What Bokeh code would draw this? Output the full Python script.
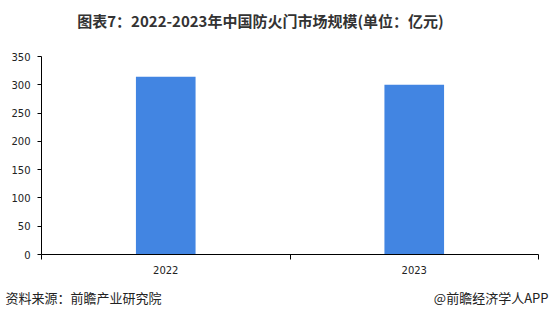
from bokeh.plotting import figure
from bokeh.models import FixedTicker, Range1d, ColumnDataSource
from bokeh.layouts import column, row
from bokeh.core.properties import value
from bokeh.embed import file_html
from bokeh.resources import INLINE

years = ["2022", "2023"]
values = [314, 300]
y_ticks = [0, 50, 100, 150, 200, 250, 300, 350]

title_text = "图表7：2022-2023年中国防火门市场规模(单位：亿元)"
source_text = "资料来源：前瞻产业研究院"
brand_text = "@前瞻经济学人APP"

W = 550
HEAD_H, FOOT_H = 45, 35
MAIN_H = 319 - HEAD_H - FOOT_H
BL, BR = 41, 12

xs = [i + 0.5 for i in range(len(years))]
src = ColumnDataSource(dict(x=xs, top=values))


def blank(h, x0, x1, **kw):
    f = figure(width=W, height=h, output_backend="svg", toolbar_location=None,
               x_range=Range1d(x0, x1), y_range=Range1d(h, 0),
               x_axis_type=None, y_axis_type=None, **kw)
    f.outline_line_color = None
    f.xgrid.visible = False
    f.ygrid.visible = False
    return f


head = blank(HEAD_H, BL, W - BR, min_border_left=BL, min_border_right=BR,
             min_border_top=0, min_border_bottom=0)
head.text(x=[260], y=[20], text=[title_text], text_align="center", text_baseline="middle",
          text_font=value("Noto Sans CJK SC"), text_font_size="15px",
          text_font_style="bold", text_color="#333333")

p = figure(width=W, height=MAIN_H, output_backend="svg", toolbar_location=None,
           x_range=Range1d(0, len(years)), y_range=Range1d(0, 350),
           min_border_left=BL, min_border_right=BR,
           min_border_top=56 - HEAD_H, min_border_bottom=HEAD_H + MAIN_H - 254)
p.outline_line_color = None
p.xgrid.visible = False
p.ygrid.visible = False

p.vbar(x="x", top="top", width=0.24, source=src, color="#4285e2", line_color=None)

p.yaxis.ticker = FixedTicker(ticks=y_ticks)
p.yaxis.major_tick_in = 0
p.yaxis.major_tick_out = 4
p.yaxis.minor_tick_line_color = None
p.yaxis.axis_line_color = "black"
p.yaxis.major_tick_line_color = "black"
p.yaxis.major_label_text_font = "DejaVu Sans"
p.yaxis.major_label_text_font_size = "10px"
p.yaxis.major_label_text_color = "#222222"
p.yaxis.major_label_standoff = 7

p.xaxis.ticker = FixedTicker(ticks=xs, minor_ticks=list(range(len(years) + 1)))
p.xaxis.major_label_overrides = {x: y for x, y in zip(xs, years)}
p.xaxis.major_tick_line_color = None
p.xaxis.minor_tick_in = 0
p.xaxis.minor_tick_out = 5
p.xaxis.minor_tick_line_color = "black"
p.xaxis.axis_line_color = "black"
p.xaxis.major_label_text_font = "DejaVu Sans"
p.xaxis.major_label_text_font_size = "10px"
p.xaxis.major_label_text_color = "#222222"
p.xaxis.major_label_standoff = 5

foot = blank(FOOT_H, 0, W, min_border=0)
foot_y = 297 - (319 - FOOT_H)
foot.text(x=[5], y=[foot_y], text=[source_text], text_align="left", text_baseline="middle",
          text_font=value("Noto Sans CJK SC"), text_font_size="13px", text_color="#222222")
foot.text(x=[548], y=[foot_y], text=[brand_text], text_align="right", text_baseline="middle",
          text_font=value("Noto Sans CJK SC"), text_font_size="13px", text_color="#222222")

layout = column(column(head, p, spacing=0), row(foot, spacing=0), spacing=0)
open("out.html", "w").write(file_html(layout, INLINE))
